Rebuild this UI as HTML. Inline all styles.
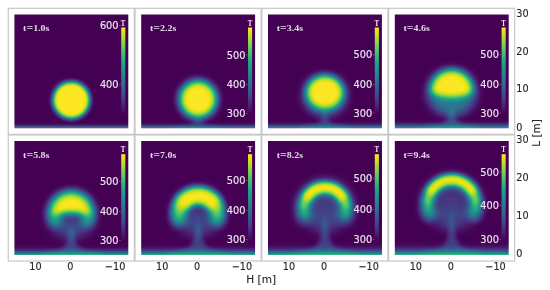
<!DOCTYPE html>
<html><head><meta charset="utf-8"><title>fig</title>
<style>
html,body{margin:0;padding:0;background:#fff;}
svg{display:block}
.tk{font-family:"DejaVu Sans","Liberation Sans",sans-serif;font-size:9.7px;fill:#262626;stroke:#262626;stroke-width:0.12px}
.cb{font-family:"DejaVu Sans","Liberation Sans",sans-serif;font-size:9.8px;fill:#ece6ee;stroke:#ece6ee;stroke-width:0.15px}
.tt{font-family:"Liberation Serif","DejaVu Serif",serif;font-weight:bold;font-size:8.1px;fill:#e2dae6}
.T{font-family:"Liberation Serif","DejaVu Serif",serif;font-weight:bold;font-size:8.2px;fill:#f0eaf2}
</style></head><body>
<svg width="550" height="290" viewBox="0 0 550 290">
<defs>
<filter id="vir" x="0" y="0" width="1" height="1" color-interpolation-filters="sRGB">
<feComponentTransfer>
<feFuncR type="table" tableValues="0.2670 0.2750 0.2803 0.2831 0.2826 0.2788 0.2730 0.2651 0.2539 0.2431 0.2297 0.2181 0.2068 0.1941 0.1839 0.1727 0.1636 0.1548 0.1448 0.1364 0.1276 0.1218 0.1194 0.1234 0.1347 0.1579 0.1858 0.2201 0.2669 0.3119 0.3692 0.4219 0.4775 0.5455 0.6060 0.6785 0.7414 0.8042 0.8762 0.9359 0.9932"/>
<feFuncG type="table" tableValues="0.0049 0.0378 0.0734 0.1106 0.1409 0.1755 0.2045 0.2330 0.2653 0.2921 0.3224 0.3474 0.3718 0.3993 0.4224 0.4488 0.4711 0.4933 0.5191 0.5412 0.5669 0.5891 0.6111 0.6368 0.6586 0.6838 0.7049 0.7255 0.7488 0.7678 0.7889 0.8058 0.8214 0.8380 0.8507 0.8637 0.8734 0.8820 0.8911 0.8986 0.9062"/>
<feFuncB type="table" tableValues="0.3294 0.3645 0.3972 0.4316 0.4575 0.4834 0.5017 0.5166 0.5300 0.5385 0.5457 0.5500 0.5531 0.5556 0.5569 0.5579 0.5581 0.5578 0.5566 0.5545 0.5506 0.5456 0.5390 0.5288 0.5176 0.5017 0.4853 0.4662 0.4406 0.4156 0.3829 0.3519 0.3182 0.2756 0.2367 0.1895 0.1496 0.1150 0.0953 0.1081 0.1439"/>
</feComponentTransfer>
</filter>

<filter id="b2" filterUnits="userSpaceOnUse" x="-20" y="-20" width="154" height="154" color-interpolation-filters="sRGB"><feGaussianBlur stdDeviation="2"/></filter>
<filter id="b2.6" filterUnits="userSpaceOnUse" x="-20" y="-20" width="154" height="154" color-interpolation-filters="sRGB"><feGaussianBlur stdDeviation="2.6"/></filter>
<filter id="b2.8" filterUnits="userSpaceOnUse" x="-20" y="-20" width="154" height="154" color-interpolation-filters="sRGB"><feGaussianBlur stdDeviation="2.8"/></filter>
<filter id="b2.9" filterUnits="userSpaceOnUse" x="-20" y="-20" width="154" height="154" color-interpolation-filters="sRGB"><feGaussianBlur stdDeviation="2.9"/></filter>
<filter id="b3" filterUnits="userSpaceOnUse" x="-20" y="-20" width="154" height="154" color-interpolation-filters="sRGB"><feGaussianBlur stdDeviation="3"/></filter>
<filter id="b3.2" filterUnits="userSpaceOnUse" x="-20" y="-20" width="154" height="154" color-interpolation-filters="sRGB"><feGaussianBlur stdDeviation="3.2"/></filter>
<filter id="b3.3" filterUnits="userSpaceOnUse" x="-20" y="-20" width="154" height="154" color-interpolation-filters="sRGB"><feGaussianBlur stdDeviation="3.3"/></filter>
<filter id="b3.4" filterUnits="userSpaceOnUse" x="-20" y="-20" width="154" height="154" color-interpolation-filters="sRGB"><feGaussianBlur stdDeviation="3.4"/></filter>
<filter id="b3.8" filterUnits="userSpaceOnUse" x="-20" y="-20" width="154" height="154" color-interpolation-filters="sRGB"><feGaussianBlur stdDeviation="3.8"/></filter>
<filter id="b4" filterUnits="userSpaceOnUse" x="-20" y="-20" width="154" height="154" color-interpolation-filters="sRGB"><feGaussianBlur stdDeviation="4"/></filter>
<filter id="b4.2" filterUnits="userSpaceOnUse" x="-20" y="-20" width="154" height="154" color-interpolation-filters="sRGB"><feGaussianBlur stdDeviation="4.2"/></filter>
<filter id="b4.5" filterUnits="userSpaceOnUse" x="-20" y="-20" width="154" height="154" color-interpolation-filters="sRGB"><feGaussianBlur stdDeviation="4.5"/></filter>
<filter id="b5" filterUnits="userSpaceOnUse" x="-20" y="-20" width="154" height="154" color-interpolation-filters="sRGB"><feGaussianBlur stdDeviation="5"/></filter>
<linearGradient id="cbg" x1="0" y1="0" x2="0" y2="1"><stop offset="0.00" stop-color="#fde725"/><stop offset="0.05" stop-color="#dfe318"/><stop offset="0.10" stop-color="#bddf26"/><stop offset="0.15" stop-color="#9bd93c"/><stop offset="0.20" stop-color="#7ad151"/><stop offset="0.25" stop-color="#5ec962"/><stop offset="0.30" stop-color="#44bf70"/><stop offset="0.35" stop-color="#2fb47c"/><stop offset="0.40" stop-color="#22a884"/><stop offset="0.45" stop-color="#1e9c89"/><stop offset="0.50" stop-color="#21918c"/><stop offset="0.55" stop-color="#25848e"/><stop offset="0.60" stop-color="#2a788e"/><stop offset="0.65" stop-color="#2f6c8e"/><stop offset="0.70" stop-color="#355f8d"/><stop offset="0.75" stop-color="#3b528b"/><stop offset="0.80" stop-color="#414487"/><stop offset="0.85" stop-color="#463480"/><stop offset="0.90" stop-color="#482475"/><stop offset="0.95" stop-color="#471365"/><stop offset="1.00" stop-color="#440154"/></linearGradient>
<linearGradient id="gg" x1="0" y1="0" x2="0" y2="1"><stop offset="0.0000" stop-color="#fff" stop-opacity="0.0047"/><stop offset="0.0625" stop-color="#fff" stop-opacity="0.0080"/><stop offset="0.1250" stop-color="#fff" stop-opacity="0.0133"/><stop offset="0.1875" stop-color="#fff" stop-opacity="0.0216"/><stop offset="0.2500" stop-color="#fff" stop-opacity="0.0339"/><stop offset="0.3125" stop-color="#fff" stop-opacity="0.0518"/><stop offset="0.3750" stop-color="#fff" stop-opacity="0.0771"/><stop offset="0.4375" stop-color="#fff" stop-opacity="0.1116"/><stop offset="0.5000" stop-color="#fff" stop-opacity="0.1573"/><stop offset="0.5625" stop-color="#fff" stop-opacity="0.2159"/><stop offset="0.6250" stop-color="#fff" stop-opacity="0.2888"/><stop offset="0.6875" stop-color="#fff" stop-opacity="0.3768"/><stop offset="0.7500" stop-color="#fff" stop-opacity="0.4795"/><stop offset="0.8125" stop-color="#fff" stop-opacity="0.5959"/><stop offset="0.8750" stop-color="#fff" stop-opacity="0.7237"/><stop offset="0.9375" stop-color="#fff" stop-opacity="0.8597"/><stop offset="1.0000" stop-color="#fff" stop-opacity="1.0000"/></linearGradient>
<clipPath id="cp"><rect x="0" y="0" width="113.9" height="113.9"/></clipPath>
</defs>
<rect width="550" height="290" fill="#fff"/>
<rect x="8.25" y="8.30" width="126.05" height="126.00" fill="none" stroke="#c3c3c3" stroke-width="1.1"/>
<g transform="translate(14.40,14.40)">
<g clip-path="url(#cp)"><g filter="url(#vir)"><rect x="-20" y="-20" width="153.9" height="153.9" fill="#000"/>
<rect x="-5" y="107.50" width="123.9" height="6.40" fill="url(#gg)" opacity="0.550"/>
<circle cx="56.90" cy="85.80" r="18.5" fill="#fff" fill-opacity="1" filter="url(#b2)"/>
</g></g>
<rect x="106.8" y="13.1" width="4.1" height="86.60" fill="url(#cbg)"/>
<text class="T" transform="translate(108.75,11.2) scale(0.84,1)" text-anchor="middle">T</text>
<text class="tt" x="8.7" y="16.6" textLength="26.4" lengthAdjust="spacingAndGlyphs">t<tspan font-size="9.6">=</tspan>1.0s</text>
<text class="cb" x="104.2" y="14.90" text-anchor="end">600</text>
<rect x="104.9" y="10.90" width="1.4" height="0.6" fill="#cfc8d4" opacity="0.7"/>
<text class="cb" x="104.2" y="74.00" text-anchor="end">400</text>
<rect x="104.9" y="70.00" width="1.4" height="0.6" fill="#cfc8d4" opacity="0.7"/>
</g>
<rect x="135.05" y="8.30" width="126.05" height="126.00" fill="none" stroke="#c3c3c3" stroke-width="1.1"/>
<g transform="translate(141.20,14.40)">
<g clip-path="url(#cp)"><g filter="url(#vir)"><rect x="-20" y="-20" width="153.9" height="153.9" fill="#000"/>
<rect x="-5" y="106.70" width="123.9" height="7.20" fill="url(#gg)" opacity="0.560"/>
<path d="M59.70 101.00 L59.42 104.90 L61.45 108.50 L63.90 110.30 L69.50 111.65 L77.90 112.55 L88.40 117.90 L25.40 117.90 L35.90 112.55 L44.30 111.65 L49.90 110.30 L52.35 108.50 L54.38 104.90 L54.10 101.00Z" fill="#fff" fill-opacity="0.13" filter="url(#b2)"/>
<circle cx="56.90" cy="84.80" r="18.7" fill="#fff" fill-opacity="1" filter="url(#b3.8)"/>
</g></g>
<rect x="106.8" y="13.1" width="4.1" height="86.60" fill="url(#cbg)"/>
<text class="T" transform="translate(108.75,11.2) scale(0.84,1)" text-anchor="middle">T</text>
<text class="tt" x="8.7" y="16.6" textLength="26.4" lengthAdjust="spacingAndGlyphs">t<tspan font-size="9.6">=</tspan>2.2s</text>
<text class="cb" x="104.2" y="44.30" text-anchor="end">500</text>
<rect x="104.9" y="40.30" width="1.4" height="0.6" fill="#cfc8d4" opacity="0.7"/>
<text class="cb" x="104.2" y="74.10" text-anchor="end">400</text>
<rect x="104.9" y="70.10" width="1.4" height="0.6" fill="#cfc8d4" opacity="0.7"/>
<text class="cb" x="104.2" y="103.00" text-anchor="end">300</text>
<rect x="104.9" y="99.00" width="1.4" height="0.6" fill="#cfc8d4" opacity="0.7"/>
</g>
<rect x="261.85" y="8.30" width="126.05" height="126.00" fill="none" stroke="#c3c3c3" stroke-width="1.1"/>
<g transform="translate(268.00,14.40)">
<g clip-path="url(#cp)"><g filter="url(#vir)"><rect x="-20" y="-20" width="153.9" height="153.9" fill="#000"/>
<rect x="-5" y="105.50" width="123.9" height="8.40" fill="url(#gg)" opacity="0.570"/>
<path d="M60.27 97.00 L58.70 99.90 L59.60 103.90 L61.77 107.90 L64.40 109.90 L70.40 111.40 L79.40 112.40 L90.65 117.90 L23.15 117.90 L34.40 112.40 L43.40 111.40 L49.40 109.90 L52.02 107.90 L54.20 103.90 L55.10 99.90 L53.52 97.00Z" fill="#fff" fill-opacity="0.17" filter="url(#b2)"/>
<ellipse cx="56.90" cy="81.00" rx="21.5" ry="20" fill="#fff" fill-opacity="0.36" filter="url(#b4)"/>
<ellipse cx="56.90" cy="78.00" rx="18.2" ry="16.6" fill="#fff" fill-opacity="1" filter="url(#b3.3)"/>
</g></g>
<rect x="106.8" y="13.1" width="4.1" height="86.60" fill="url(#cbg)"/>
<text class="T" transform="translate(108.75,11.2) scale(0.84,1)" text-anchor="middle">T</text>
<text class="tt" x="8.7" y="16.6" textLength="26.4" lengthAdjust="spacingAndGlyphs">t<tspan font-size="9.6">=</tspan>3.4s</text>
<text class="cb" x="104.2" y="44.10" text-anchor="end">500</text>
<rect x="104.9" y="40.10" width="1.4" height="0.6" fill="#cfc8d4" opacity="0.7"/>
<text class="cb" x="104.2" y="73.70" text-anchor="end">400</text>
<rect x="104.9" y="69.70" width="1.4" height="0.6" fill="#cfc8d4" opacity="0.7"/>
<text class="cb" x="104.2" y="102.30" text-anchor="end">300</text>
<rect x="104.9" y="98.30" width="1.4" height="0.6" fill="#cfc8d4" opacity="0.7"/>
</g>
<rect x="388.65" y="8.30" width="126.05" height="126.00" fill="none" stroke="#c3c3c3" stroke-width="1.1"/>
<g transform="translate(394.80,14.40)">
<g clip-path="url(#cp)"><g filter="url(#vir)"><rect x="-20" y="-20" width="153.9" height="153.9" fill="#000"/>
<rect x="-5" y="104.30" width="123.9" height="9.60" fill="url(#gg)" opacity="0.590"/>
<path d="M60.50 95.00 L58.82 97.10 L59.78 101.90 L62.10 106.70 L64.90 109.10 L71.30 110.90 L80.90 112.10 L92.90 117.90 L20.90 117.90 L32.90 112.10 L42.50 110.90 L48.90 109.10 L51.70 106.70 L54.02 101.90 L54.98 97.10 L53.30 95.00Z" fill="#fff" fill-opacity="0.2" filter="url(#b2)"/>
<ellipse cx="56.90" cy="78.00" rx="24.5" ry="23.5" fill="#fff" fill-opacity="0.36" filter="url(#b4)"/>
<path d="M40.90 84.00 L72.90 84.00 C72.90 92.00,60.40 92.00,60.40 100.00 L53.40 100.00 C53.40 92.00,40.90 92.00,40.90 84.00Z" fill="#fff" fill-opacity="0.07" filter="url(#b3)"/>
<path d="M36.10 76.00 A20.8 20.10 0 0 1 77.70 76.00 A20.8 7.60 0 0 1 36.10 76.00Z" fill="#fff" fill-opacity="1" filter="url(#b3.4)"/>
</g></g>
<rect x="106.8" y="13.1" width="4.1" height="86.60" fill="url(#cbg)"/>
<text class="T" transform="translate(108.75,11.2) scale(0.84,1)" text-anchor="middle">T</text>
<text class="tt" x="8.7" y="16.6" textLength="26.4" lengthAdjust="spacingAndGlyphs">t<tspan font-size="9.6">=</tspan>4.6s</text>
<text class="cb" x="104.2" y="44.10" text-anchor="end">500</text>
<rect x="104.9" y="40.10" width="1.4" height="0.6" fill="#cfc8d4" opacity="0.7"/>
<text class="cb" x="104.2" y="73.70" text-anchor="end">400</text>
<rect x="104.9" y="69.70" width="1.4" height="0.6" fill="#cfc8d4" opacity="0.7"/>
<text class="cb" x="104.2" y="102.30" text-anchor="end">300</text>
<rect x="104.9" y="98.30" width="1.4" height="0.6" fill="#cfc8d4" opacity="0.7"/>
</g>
<rect x="8.25" y="135.00" width="126.05" height="126.00" fill="none" stroke="#c3c3c3" stroke-width="1.1"/>
<g transform="translate(14.40,141.10)">
<g clip-path="url(#cp)"><g filter="url(#vir)"><rect x="-20" y="-20" width="153.9" height="153.9" fill="#000"/>
<rect x="-5" y="103.10" width="123.9" height="10.80" fill="url(#gg)" opacity="0.610"/>
<path d="M59.60 88.00 L59.06 92.90 L60.14 98.90 L62.75 104.90 L65.90 107.90 L73.10 110.15 L83.90 111.65 L97.40 117.90 L16.40 117.90 L29.90 111.65 L40.70 110.15 L47.90 107.90 L51.05 104.90 L53.66 98.90 L54.74 92.90 L54.20 88.00Z" fill="#fff" fill-opacity="0.2" filter="url(#b2)"/>
<ellipse cx="56.90" cy="74.00" rx="25" ry="24" fill="#fff" fill-opacity="0.17" filter="url(#b4)"/>
<path d="M43.90 82.00 L69.90 82.00 C69.90 89.50,60.40 89.50,60.40 97.00 L53.40 97.00 C53.40 89.50,43.90 89.50,43.90 82.00Z" fill="#fff" fill-opacity="0.08" filter="url(#b3)"/>
<path d="M40.91 79.62 A17.5 17.5 0 1 1 72.89 79.62" fill="none" stroke="#fff" stroke-opacity="0.45" stroke-width="13" stroke-linecap="round" filter="url(#b3.3)"/>
<path d="M37.60 76.00 C34.70 45.41,79.09 45.41,76.20 76.00 C66.55 70.68,47.25 70.68,37.60 76.00Z" fill="#fff" fill-opacity="1" filter="url(#b3.3)"/>
</g></g>
<rect x="106.8" y="13.1" width="4.1" height="86.60" fill="url(#cbg)"/>
<text class="T" transform="translate(108.75,11.2) scale(0.84,1)" text-anchor="middle">T</text>
<text class="tt" x="8.7" y="16.6" textLength="26.4" lengthAdjust="spacingAndGlyphs">t<tspan font-size="9.6">=</tspan>5.8s</text>
<text class="cb" x="104.2" y="44.10" text-anchor="end">500</text>
<rect x="104.9" y="40.10" width="1.4" height="0.6" fill="#cfc8d4" opacity="0.7"/>
<text class="cb" x="104.2" y="74.30" text-anchor="end">400</text>
<rect x="104.9" y="70.30" width="1.4" height="0.6" fill="#cfc8d4" opacity="0.7"/>
<text class="cb" x="104.2" y="102.90" text-anchor="end">300</text>
<rect x="104.9" y="98.90" width="1.4" height="0.6" fill="#cfc8d4" opacity="0.7"/>
</g>
<rect x="135.05" y="135.00" width="126.05" height="126.00" fill="none" stroke="#c3c3c3" stroke-width="1.1"/>
<g transform="translate(141.20,141.10)">
<g clip-path="url(#cp)"><g filter="url(#vir)"><rect x="-20" y="-20" width="153.9" height="153.9" fill="#000"/>
<rect x="-5" y="101.90" width="123.9" height="12.00" fill="url(#gg)" opacity="0.630"/>
<path d="M57.85 82.00 L59.18 90.10 L60.32 96.90 L63.07 103.70 L66.40 107.10 L74.00 109.65 L85.40 111.35 L99.65 117.90 L14.15 117.90 L28.40 111.35 L39.80 109.65 L47.40 107.10 L50.73 103.70 L53.48 96.90 L54.62 90.10 L55.95 82.00Z" fill="#fff" fill-opacity="0.19" filter="url(#b2)"/>
<path d="M35.90 76.00 L77.90 76.00 C77.90 86.00,59.90 86.00,59.90 96.00 L53.90 96.00 C53.90 86.00,35.90 86.00,35.90 76.00Z" fill="#fff" fill-opacity="0.05" filter="url(#b4)"/>
<ellipse cx="56.90" cy="73.00" rx="26" ry="24" fill="#fff" fill-opacity="0.11" filter="url(#b4.5)"/>
<ellipse cx="56.90" cy="78.00" rx="12" ry="13" fill="#fff" fill-opacity="0.08" filter="url(#b5)"/>
<path d="M37.80 78.00 L37.30 72.50 A19.6 19.6 0 0 1 76.50 72.50 L76.00 78.00" fill="none" stroke="#fff" stroke-opacity="0.47" stroke-width="14.5" stroke-linecap="round" stroke-linejoin="round" filter="url(#b3.8)"/>
<path d="M37.50 74.20 A19.4 19.4 0 0 1 76.30 74.20" fill="none" stroke="#fff" stroke-opacity="0.33" stroke-width="12" stroke-linecap="round" filter="url(#b3.2)"/>
<path d="M38.67 67.56 A19.4 19.4 0 0 1 75.13 67.56" fill="none" stroke="#fff" stroke-opacity="0.45" stroke-width="12.5" stroke-linecap="round" filter="url(#b3.2)"/>
<path d="M42.48 61.02 A19.4 19.4 0 0 1 71.32 61.02" fill="none" stroke="#fff" stroke-opacity="1" stroke-width="14" stroke-linecap="round" filter="url(#b3.2)"/>
</g></g>
<rect x="106.8" y="13.1" width="4.1" height="86.60" fill="url(#cbg)"/>
<text class="T" transform="translate(108.75,11.2) scale(0.84,1)" text-anchor="middle">T</text>
<text class="tt" x="8.7" y="16.6" textLength="26.4" lengthAdjust="spacingAndGlyphs">t<tspan font-size="9.6">=</tspan>7.0s</text>
<text class="cb" x="104.2" y="43.30" text-anchor="end">500</text>
<rect x="104.9" y="39.30" width="1.4" height="0.6" fill="#cfc8d4" opacity="0.7"/>
<text class="cb" x="104.2" y="73.10" text-anchor="end">400</text>
<rect x="104.9" y="69.10" width="1.4" height="0.6" fill="#cfc8d4" opacity="0.7"/>
<text class="cb" x="104.2" y="102.10" text-anchor="end">300</text>
<rect x="104.9" y="98.10" width="1.4" height="0.6" fill="#cfc8d4" opacity="0.7"/>
</g>
<rect x="261.85" y="135.00" width="126.05" height="126.00" fill="none" stroke="#c3c3c3" stroke-width="1.1"/>
<g transform="translate(268.00,141.10)">
<g clip-path="url(#cp)"><g filter="url(#vir)"><rect x="-20" y="-20" width="153.9" height="153.9" fill="#000"/>
<rect x="-5" y="100.90" width="123.9" height="13.00" fill="url(#gg)" opacity="0.640"/>
<path d="M57.66 76.00 L59.18 87.30 L60.32 94.90 L63.07 102.50 L66.40 106.30 L74.00 109.15 L85.40 111.05 L99.65 117.90 L14.15 117.90 L28.40 111.05 L39.80 109.15 L47.40 106.30 L50.73 102.50 L53.48 94.90 L54.62 87.30 L56.14 76.00Z" fill="#fff" fill-opacity="0.19" filter="url(#b2)"/>
<path d="M34.90 72.00 L78.90 72.00 C78.90 83.00,59.90 83.00,59.90 94.00 L53.90 94.00 C53.90 83.00,34.90 83.00,34.90 72.00Z" fill="#fff" fill-opacity="0.05" filter="url(#b4)"/>
<ellipse cx="56.90" cy="68.00" rx="27.5" ry="25" fill="#fff" fill-opacity="0.1" filter="url(#b4.5)"/>
<ellipse cx="56.90" cy="72.00" rx="13" ry="15" fill="#fff" fill-opacity="0.09" filter="url(#b5)"/>
<path d="M36.70 74.40 L35.70 67.40 A21.2 21.2 0 0 1 78.10 67.40 L77.10 74.40" fill="none" stroke="#fff" stroke-opacity="0.45" stroke-width="13.5" stroke-linecap="round" stroke-linejoin="round" filter="url(#b4.2)"/>
<path d="M36.02 71.48 A21.2 21.2 0 1 1 77.78 71.48" fill="none" stroke="#fff" stroke-opacity="0.33" stroke-width="9" stroke-linecap="round" filter="url(#b2.9)"/>
<path d="M36.07 63.27 A21.3 21.3 0 0 1 77.73 63.27" fill="none" stroke="#fff" stroke-opacity="0.45" stroke-width="9" stroke-linecap="round" filter="url(#b2.9)"/>
<path d="M39.37 55.33 A21.4 21.4 0 0 1 74.43 55.33" fill="none" stroke="#fff" stroke-opacity="1" stroke-width="8.6" stroke-linecap="round" filter="url(#b2.8)"/>
</g></g>
<rect x="106.8" y="13.1" width="4.1" height="86.60" fill="url(#cbg)"/>
<text class="T" transform="translate(108.75,11.2) scale(0.84,1)" text-anchor="middle">T</text>
<text class="tt" x="8.7" y="16.6" textLength="26.4" lengthAdjust="spacingAndGlyphs">t<tspan font-size="9.6">=</tspan>8.2s</text>
<text class="cb" x="104.2" y="40.80" text-anchor="end">500</text>
<rect x="104.9" y="36.80" width="1.4" height="0.6" fill="#cfc8d4" opacity="0.7"/>
<text class="cb" x="104.2" y="71.90" text-anchor="end">400</text>
<rect x="104.9" y="67.90" width="1.4" height="0.6" fill="#cfc8d4" opacity="0.7"/>
<text class="cb" x="104.2" y="102.10" text-anchor="end">300</text>
<rect x="104.9" y="98.10" width="1.4" height="0.6" fill="#cfc8d4" opacity="0.7"/>
</g>
<rect x="388.65" y="135.00" width="126.05" height="126.00" fill="none" stroke="#c3c3c3" stroke-width="1.1"/>
<g transform="translate(394.80,141.10)">
<g clip-path="url(#cp)"><g filter="url(#vir)"><rect x="-20" y="-20" width="153.9" height="153.9" fill="#000"/>
<rect x="-5" y="99.90" width="123.9" height="14.00" fill="url(#gg)" opacity="0.650"/>
<path d="M57.62 70.00 L59.06 85.90 L60.14 93.90 L62.75 101.90 L65.90 105.90 L73.10 108.90 L83.90 110.90 L97.40 117.90 L16.40 117.90 L29.90 110.90 L40.70 108.90 L47.90 105.90 L51.05 101.90 L53.66 93.90 L54.74 85.90 L56.18 70.00Z" fill="#fff" fill-opacity="0.18" filter="url(#b2)"/>
<path d="M32.90 68.00 L80.90 68.00 C80.90 80.00,59.90 80.00,59.90 92.00 L53.90 92.00 C53.90 80.00,32.90 80.00,32.90 68.00Z" fill="#fff" fill-opacity="0.05" filter="url(#b4)"/>
<ellipse cx="56.90" cy="64.00" rx="30" ry="27" fill="#fff" fill-opacity="0.09" filter="url(#b4.5)"/>
<ellipse cx="56.90" cy="68.00" rx="15" ry="17" fill="#fff" fill-opacity="0.09" filter="url(#b5)"/>
<path d="M34.65 72.49 A24.0 24.0 0 1 1 79.15 72.49" fill="none" stroke="#fff" stroke-opacity="0.47" stroke-width="13" stroke-linecap="round" filter="url(#b3.8)"/>
<path d="M32.94 66.67 A24.2 24.2 0 1 1 80.86 66.67" fill="none" stroke="#fff" stroke-opacity="0.33" stroke-width="8" stroke-linecap="round" filter="url(#b2.8)"/>
<path d="M32.97 58.88 A24.3 24.3 0 0 1 80.83 58.88" fill="none" stroke="#fff" stroke-opacity="0.45" stroke-width="8" stroke-linecap="round" filter="url(#b2.8)"/>
<path d="M36.12 49.92 A24.5 24.5 0 0 1 77.68 49.92" fill="none" stroke="#fff" stroke-opacity="1" stroke-width="7.5" stroke-linecap="round" filter="url(#b2.6)"/>
</g></g>
<rect x="106.8" y="13.1" width="4.1" height="86.60" fill="url(#cbg)"/>
<text class="T" transform="translate(108.75,11.2) scale(0.84,1)" text-anchor="middle">T</text>
<text class="tt" x="8.7" y="16.6" textLength="26.4" lengthAdjust="spacingAndGlyphs">t<tspan font-size="9.6">=</tspan>9.4s</text>
<text class="cb" x="104.2" y="34.60" text-anchor="end">500</text>
<rect x="104.9" y="30.60" width="1.4" height="0.6" fill="#cfc8d4" opacity="0.7"/>
<text class="cb" x="104.2" y="68.10" text-anchor="end">400</text>
<rect x="104.9" y="64.10" width="1.4" height="0.6" fill="#cfc8d4" opacity="0.7"/>
<text class="cb" x="104.2" y="102.10" text-anchor="end">300</text>
<rect x="104.9" y="98.10" width="1.4" height="0.6" fill="#cfc8d4" opacity="0.7"/>
</g>
<text class="tk" x="35.40" y="269.75" text-anchor="middle">10</text>
<text class="tk" x="70.40" y="269.75" text-anchor="middle">0</text>
<text class="tk" x="115.10" y="269.75" text-anchor="middle">−10</text>
<text class="tk" x="162.20" y="269.75" text-anchor="middle">10</text>
<text class="tk" x="197.20" y="269.75" text-anchor="middle">0</text>
<text class="tk" x="241.90" y="269.75" text-anchor="middle">−10</text>
<text class="tk" x="289.00" y="269.75" text-anchor="middle">10</text>
<text class="tk" x="324.00" y="269.75" text-anchor="middle">0</text>
<text class="tk" x="368.70" y="269.75" text-anchor="middle">−10</text>
<text class="tk" x="415.80" y="269.75" text-anchor="middle">10</text>
<text class="tk" x="450.80" y="269.75" text-anchor="middle">0</text>
<text class="tk" x="495.50" y="269.75" text-anchor="middle">−10</text>
<text class="tk" x="516.3" y="16.65">30</text>
<text class="tk" x="516.3" y="54.65">20</text>
<text class="tk" x="516.3" y="92.45">10</text>
<text class="tk" x="516.3" y="130.65">0</text>
<text class="tk" x="516.3" y="143.35">30</text>
<text class="tk" x="516.3" y="181.35">20</text>
<text class="tk" x="516.3" y="219.15">10</text>
<text class="tk" x="516.3" y="257.35">0</text>
<text class="tk" style="font-size:10.5px" x="261.2" y="282.8" text-anchor="middle">H [m]</text>
<text class="tk" style="font-size:10.5px" transform="translate(539.7,133) rotate(-90)" text-anchor="middle">L [m]</text>
</svg></body></html>
